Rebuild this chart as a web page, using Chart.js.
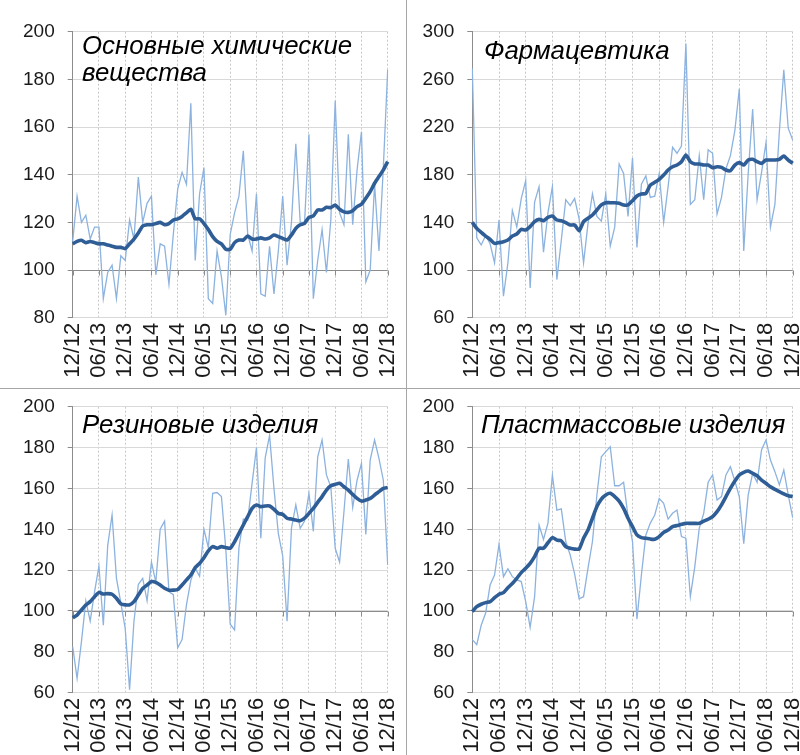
<!DOCTYPE html>
<html>
<head>
<meta charset="utf-8">
<script src="https://cdn.jsdelivr.net/npm/chart.js@4.4.0/dist/chart.umd.min.js"></script>
<style>
  body { margin: 0; background: #fff; }
  #wrap { position: relative; width: 800px; height: 755px; overflow: hidden; background: #fff; }
  .panel { position: absolute; }
  .title { position: absolute; font: italic 25.8px "Liberation Sans", Arial, sans-serif; color: #000; line-height: 27px; white-space: nowrap; }
  .sep { position: absolute; background: #a6a6a6; }
</style>
</head>
<body>
<div id="wrap">
  <div class="panel" style="left:0;top:0"><canvas id="chem" width="405" height="388"></canvas></div>
  <div class="panel" style="left:405px;top:0"><canvas id="pharma" width="395" height="388"></canvas></div>
  <div class="panel" style="left:0;top:388px"><canvas id="rubber" width="405" height="367"></canvas></div>
  <div class="panel" style="left:405px;top:388px"><canvas id="plastic" width="395" height="367"></canvas></div>

  <div class="title" style="left:82px;top:32px">Основные химические<br>вещества</div>
  <div class="title" style="left:484px;top:37px">Фармацевтика</div>
  <div class="title" style="left:82px;top:411px">Резиновые изделия</div>
  <div class="title" style="left:481px;top:411px">Пластмассовые изделия</div>

  <div class="sep" style="left:406px;top:0;width:1px;height:755px"></div>
  <div class="sep" style="left:0;top:388px;width:800px;height:1px"></div>
</div>
<script>
// месяцы 12/12 ... 12/18
const months = [];
for (let k = 0; k <= 72; k++) {
  const m = (11 + k) % 12 + 1;
  const yr = 12 + Math.floor((11 + k) / 12);
  months.push(String(m).padStart(2, '0') + '/' + yr);
}

const chemMonthly = [112, 131, 120, 123, 113, 118, 118, 88, 99, 102, 88, 106, 104, 121, 113, 139, 120, 128, 131, 98, 111, 110, 94, 115,
  134, 141, 136, 170, 104, 132, 143, 88, 86, 108, 97, 81, 115, 124, 131, 150, 115, 108, 132, 90, 89, 110, 90, 108,
  131, 102, 120, 153, 120, 120, 157, 88, 104, 117, 99, 121, 171, 124, 119, 157, 119, 142, 158, 95, 100, 136, 108, 143, 184];
const chemTrend = [111, 112, 112.5, 111.5, 112, 111.5, 111, 111, 110.5, 110, 109.5, 109.5, 109, 111, 113, 115.5, 118.5, 119, 119, 119.5, 120, 119, 119.5, 121,
  121.5, 122.5, 124, 125.5, 121.5, 121.5, 119.5, 117, 114, 112, 111, 108.7, 108.7, 111.5, 112.6, 112.6, 114.3, 113, 113, 113.5, 113, 113.5, 114.7, 114,
  113.3, 112.6, 114.7, 117.5, 119, 119.6, 122.1, 122.7, 125.2, 125.2, 126.3, 126.2, 127.3, 125.5, 124.4, 124.2, 124.9, 126.6, 127.6, 130.1, 132.9, 136.4, 139.2, 142, 145.5];

const pharmaMonthly = [269, 127, 121, 129, 122, 106, 142, 78, 106, 150, 136, 160, 175, 85, 157, 170, 115, 148, 170, 92, 125, 159, 154, 160,
  143, 106, 139, 164, 145, 141, 164, 120, 136, 189, 181, 145, 194, 119, 172, 179, 161, 162, 181, 140, 170, 203, 198, 204,
  290, 155, 159, 196, 159, 201, 198, 147, 161, 185, 196, 217, 252, 116, 181, 235, 159, 182, 207, 136, 155, 216, 268, 219, 209];
const pharmaTrend = [140, 135, 131.6, 128.5, 125.7, 122.4, 123, 123.8, 125.2, 128.5, 130.2, 134.1, 133.6, 136.4, 140.6, 142.5, 141.4, 144.2, 145.3, 142, 141.4, 139.8, 137.8, 137.8,
  133, 140.6, 143.4, 146.2, 150.4, 154.6, 156.5, 156.5, 156.5, 156, 154.6, 154.6, 158.2, 162.1, 163.8, 164.3, 171.3, 173.6, 176.1, 179.7, 183.9, 186.7, 188.1, 190.9,
  196.5, 190.9, 189, 189, 188.1, 188.1, 185.9, 186.7, 186.2, 183.9, 183.4, 188.1, 190.1, 188.1, 192.3, 192.9, 190.9, 189.5, 192.3, 192.3, 192.3, 192.9, 195.7, 192.3, 189.5];

const rubberMonthly = [82.5, 67, 85, 105, 95, 109.5, 122, 93, 132, 147, 116, 104, 91.5, 61.5, 95, 113, 116, 105, 124, 114, 140, 144, 109.5, 108,
  82, 86, 103, 115, 121, 117, 140, 131, 157.6, 158, 156, 130, 93.5, 90.7, 131, 145, 144.5, 162.5, 180, 135.6, 175, 186, 160, 138,
  127, 95, 140.5, 152, 140.5, 144, 157.6, 139, 175.5, 183.7, 166.6, 160.8, 130.7, 124, 148.6, 174.4, 150.6, 164, 172.3, 137.5, 174, 183.7, 174.7, 164, 122.5];
const rubberTrend = [96.7, 98, 100.5, 102.9, 104.6, 107, 109.1, 108.3, 108.5, 108.2, 106.2, 103.5, 103, 103, 104.6, 107.8, 111, 112.7, 114.4, 114, 112.7, 111.1, 110.2, 110.2,
  110.5, 112.7, 115.2, 117.6, 121.2, 123.3, 126.1, 129.4, 131.5, 130.7, 131.5, 131, 130.7, 133.9, 138, 142.1, 146.2, 150.2, 151.9, 151.1, 151.4, 151.4, 149.8, 147.8,
  147.3, 145.4, 145, 144.5, 144.2, 145.4, 147.8, 150.2, 153.2, 156, 159.2, 161.3, 162, 162.5, 160.8, 159.2, 157.1, 155.1, 153.8, 154.3, 155.1, 156.8, 158.4, 160, 160.4];

const plasticMonthly = [86, 83.5, 93, 99, 112.7, 117.6, 132.6, 116.8, 120.6, 116.8, 115.2, 114.4, 104.6, 92, 107, 142, 135, 143, 166.6, 149.4, 150, 134, 127.4, 118,
  106, 107, 121, 134, 156.8, 175.5, 178, 180.4, 161.3, 161.3, 163, 146.2, 134, 96, 117.6, 137.2, 143, 147, 155, 152.7, 145, 147.8, 149.4, 136.4,
  135.6, 107, 121.7, 140.5, 147.8, 163, 166.6, 154.3, 156, 166.6, 170.6, 163.6, 156, 133, 156.8, 167.4, 163, 178.8, 183.7, 173.9, 168.2, 161.7, 169, 156.8, 145.7];
const plasticTrend = [99.7, 102.1, 103.3, 104.1, 104.6, 106.5, 108.2, 109, 111.4, 113.5, 116, 118.8, 120.9, 123.3, 126.6, 130.7, 130.7, 133.4, 135.9, 134.7, 134.3, 131.5, 130.7, 130.3,
  130.3, 135.6, 139.6, 145.4, 151.1, 154.8, 156.8, 157.6, 156, 153.8, 150.2, 145.4, 141.3, 137.2, 135.9, 135.6, 135.2, 135.1, 136.4, 138.5, 139.6, 141.3, 141.8, 142.4,
  142.9, 142.9, 142.9, 142.9, 144, 144.9, 146.2, 148.6, 151.9, 156, 160, 163.6, 166.6, 167.9, 168.5, 167.4, 166.2, 164.1, 162.5, 160.8, 159.5, 158.4, 157.3, 156.4, 156];

const fontFamily = '"Liberation Sans", Arial, sans-serif';

// горизонтальная ось проходит через 100
const baseLine = {
  id: 'baseLine',
  beforeDatasetsDraw(chart) {
    const { ctx, scales: { x, y } } = chart;
    const py = Math.round(y.getPixelForValue(100)) + 0.5;
    ctx.save();
    ctx.strokeStyle = '#8c8c8c';
    ctx.lineWidth = 1;
    ctx.beginPath();
    ctx.moveTo(x.left, py);
    ctx.lineTo(x.right, py);
    months.forEach((m, i) => {
      if (i % 6 !== 0) return;
      const px = Math.round(x.getPixelForValue(i)) + 0.5;
      ctx.moveTo(px, py);
      ctx.lineTo(px, py + 5);
    });
    ctx.stroke();
    ctx.restore();
  }
};

const makePanel = (id, monthly, trend, yMin, yMax, step, box) => {
  return new Chart(document.getElementById(id), {
    type: 'line',
    data: {
      labels: months,
      datasets: [
        { data: trend, borderColor: '#2f5d95', borderWidth: 3.6, pointRadius: 0, tension: 0.2 },
        { data: monthly, borderColor: '#8cb2df', borderWidth: 1.3, pointRadius: 0, tension: 0 }
      ]
    },
    options: {
      responsive: false,
      animation: false,
      layout: { padding: { top: box.top, right: box.right, left: 0, bottom: 0 } },
      plugins: { legend: { display: false }, tooltip: { enabled: false } },
      scales: {
        x: {
          offset: false,
          afterFit: s => {
            s.height = box.xh;
            s.paddingLeft = 0;
            s.paddingRight = 0;
          },
          grid: {
            drawTicks: false,
            color: c => (c.index % 6 === 0 ? '#c8c8c8' : 'rgba(0,0,0,0)')
          },
          border: { display: false, dash: [2, 2] },
          ticks: {
            autoSkip: false,
            maxRotation: 90,
            minRotation: 90,
            padding: 5,
            color: '#1a1a1a',
            font: { family: fontFamily, size: 22 },
            callback: (v, i) => (i % 6 === 0 ? months[i] : '')
          }
        },
        y: {
          min: yMin,
          max: yMax,
          afterFit: s => {
            s.width = box.yw;
            s.paddingTop = 0;
            s.paddingBottom = 0;
          },
          grid: { color: '#d9d9d9', tickColor: '#8c8c8c', tickLength: 5 },
          border: { color: '#8c8c8c' },
          ticks: {
            stepSize: step,
            padding: 13,
            color: '#1a1a1a',
            font: { family: fontFamily, size: 19 }
          }
        }
      }
    },
    plugins: [baseLine]
  });
};

makePanel('chem', chemMonthly, chemTrend, 80, 200, 20, { top: 31.7, right: 17.3, yw: 72.7, xh: 70.3 });
makePanel('pharma', pharmaMonthly, pharmaTrend, 60, 300, 40, { top: 31.7, right: 7.3, yw: 67.3, xh: 70.3 });
makePanel('rubber', rubberMonthly, rubberTrend, 60, 200, 20, { top: 18.7, right: 17.3, yw: 72.7, xh: 62.3 });
makePanel('plastic', plasticMonthly, plasticTrend, 60, 200, 20, { top: 18.7, right: 7.3, yw: 67.3, xh: 62.3 });
</script>
</body>
</html>
